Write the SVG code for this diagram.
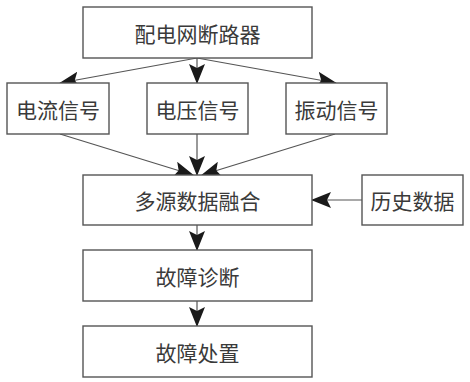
<svg xmlns="http://www.w3.org/2000/svg" width="470" height="382" viewBox="0 0 470 382">
<style>
rect{fill:#fff;stroke:#555;stroke-width:1.4}
text{font-family:"Noto Sans CJK SC","Noto Sans",sans-serif;font-size:21px;fill:#3a3a3a;text-anchor:middle;dominant-baseline:central}
.c line{stroke:#555;stroke-width:1.2}
</style>
<defs>
<marker id="a" viewBox="0 0 20 16" refX="19" refY="8" markerWidth="20" markerHeight="16" markerUnits="userSpaceOnUse" orient="auto">
<path d="M0,0 L20,8 L0,16 L4,8 Z" fill="#1a1a1a"/>
</marker>
</defs>
<rect width="470" height="382" style="fill:#fff;stroke:none"/>
<g class="c">
<line x1="197" y1="58" x2="60" y2="83" marker-end="url(#a)"/>
<line x1="197" y1="58" x2="197" y2="83" marker-end="url(#a)"/>
<line x1="197" y1="58" x2="336" y2="83" marker-end="url(#a)"/>
<line x1="60" y1="134" x2="193" y2="175" marker-end="url(#a)"/>
<line x1="197" y1="134" x2="197" y2="175" marker-end="url(#a)"/>
<line x1="335" y1="134" x2="202" y2="175" marker-end="url(#a)"/>
<line x1="362" y1="200" x2="312" y2="200" marker-end="url(#a)"/>
<line x1="197" y1="225" x2="197" y2="250" marker-end="url(#a)"/>
<line x1="197" y1="301" x2="197" y2="326" marker-end="url(#a)"/>
</g>
<g id="n1"><rect x="83" y="7" width="229" height="51"/><text x="197.5" y="32.5">配电网断路器</text></g>
<g id="n2"><rect x="7" y="83" width="102" height="51"/><text x="58" y="108.5">电流信号</text></g>
<g id="n3"><rect x="147" y="83" width="101" height="51"/><text x="197.5" y="108.5">电压信号</text></g>
<g id="n4"><rect x="286" y="83" width="101" height="51"/><text x="336.5" y="108.5">振动信号</text></g>
<g id="n5"><rect x="83" y="175" width="229" height="50"/><text x="197.5" y="200">多源数据融合</text></g>
<g id="n6"><rect x="362" y="175" width="101" height="50"/><text x="412.5" y="200">历史数据</text></g>
<g id="n7"><rect x="83" y="250" width="229" height="51"/><text x="197.5" y="275.5">故障诊断</text></g>
<g id="n8"><rect x="83" y="326" width="229" height="51"/><text x="197.5" y="351.5">故障处置</text></g>
</svg>
